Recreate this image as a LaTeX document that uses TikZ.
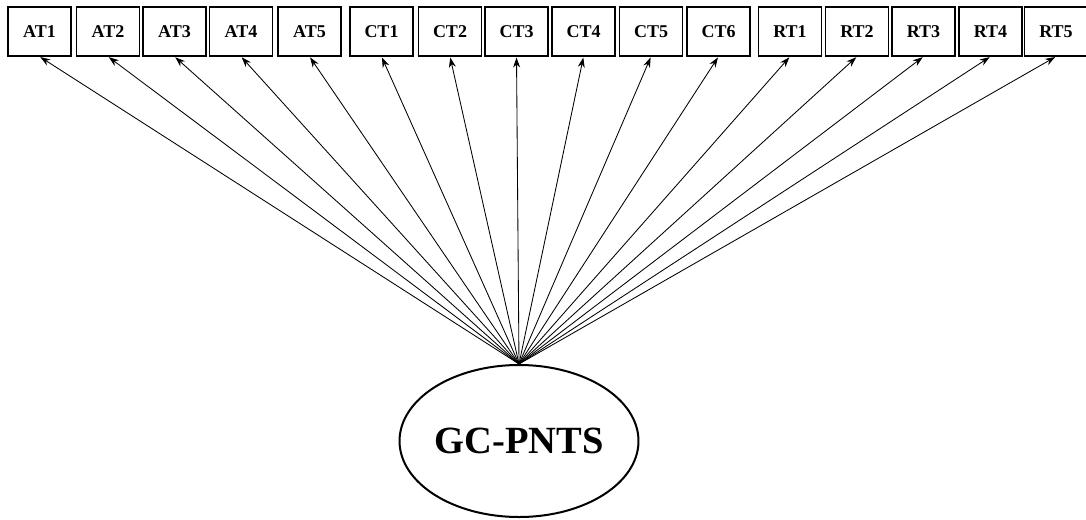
\documentclass[tikz,border=0pt]{standalone}
\usepackage{fontspec}
\setmainfont{Liberation Serif}
\usetikzlibrary{arrows.meta,shapes.geometric}
\tikzset{
  item/.style={draw, line width=1.1pt, minimum width=63pt, minimum height=49pt, inner sep=0pt, font=\fontsize{18}{18}\selectfont\bfseries},
  latent/.style={draw, ellipse, line width=2pt, minimum width=235pt, minimum height=152pt, inner sep=0pt, font=\fontsize{38.5}{38.5}\selectfont\bfseries},
  load/.style={line width=0.85pt, shorten >=1pt, -{Stealth[length=10pt,width=7pt]}}
}
\begin{document}
\begin{tikzpicture}[x=1pt,y=-1pt]
\useasboundingbox (0,0) rectangle (1086,519);
\fill[white] (0,0) rectangle (1086,519);
\node[latent] (g) at (519,441) {GC-PNTS};
\foreach \n/\x in {AT1/39.5, AT2/108, AT3/174.5, AT4/241, AT5/309.5, CT1/381.5, CT2/450, CT3/516.5, CT4/583.5, CT5/651, CT6/718.5, RT1/790, RT2/857, RT3/923.5, RT4/990.5, RT5/1056}{
  \node[item] (\n) at (\x,31.5) {\n};
  \draw[load] (g.north) -- (\n.south);
}
\end{tikzpicture}
\end{document}
